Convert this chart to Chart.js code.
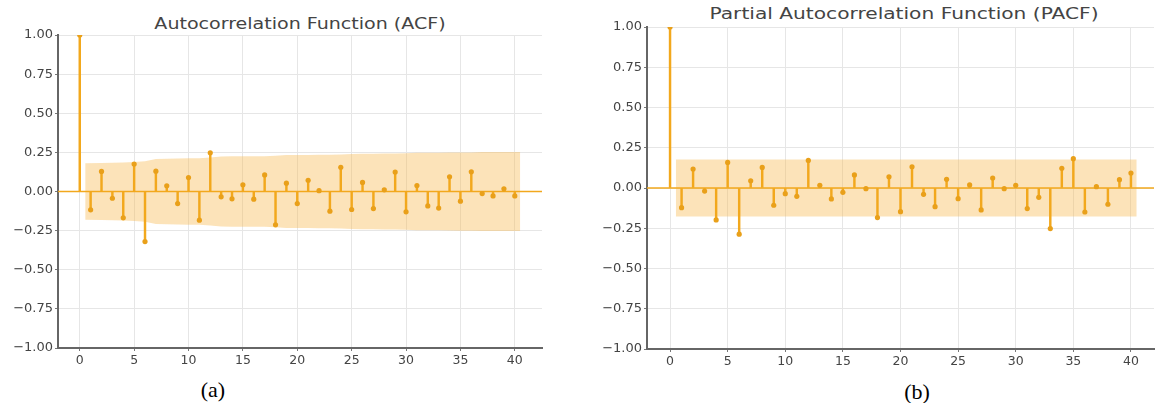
<!DOCTYPE html>
<html>
<head>
<meta charset="utf-8">
<script src="https://cdn.jsdelivr.net/npm/chart.js"></script>
<style>
  body { margin: 0; width: 1158px; height: 403px; background: #fff; position: relative; overflow: hidden; }
  .title { position: absolute; width: 600px; text-align: center; font: 16px "DejaVu Sans"; line-height: 20px; color: #444; white-space: nowrap; }
  .caption { position: absolute; width: 60px; text-align: center; font: 22px "Liberation Serif"; line-height: 24px; color: #000; }
  canvas { position: absolute; top: 0; }
</style>
</head>
<body>
<div class="title" style="left:0px;top:14px;transform:scaleX(1.19)">Autocorrelation Function (ACF)</div>
<div class="title" style="left:604px;top:4px;transform:scaleX(1.26)">Partial Autocorrelation Function (PACF)</div>
<canvas id="acfChart" width="560" height="375" style="left:0px"></canvas>
<canvas id="pacfChart" width="583" height="375" style="left:575px"></canvas>
<div class="caption" style="left:183px;top:378px">(a)</div>
<div class="caption" style="left:887px;top:380px">(b)</div>
<script>
var lags = [0,1,2,3,4,5,6,7,8,9,10,11,12,13,14,15,16,17,18,19,20,21,22,23,24,25,26,27,28,29,30,31,32,33,34,35,36,37,38,39,40];
var xTicks = [0, 5, 10, 15, 20, 25, 30, 35, 40];
var yTicks = [-1, -0.75, -0.5, -0.25, 0, 0.25, 0.5, 0.75, 1];

var acfValues = [1.00, -0.117, 0.128, -0.043, -0.168, 0.175, -0.32, 0.13, 0.036, -0.077, 0.089,
  -0.183, 0.247, -0.034, -0.047, 0.043, -0.049, 0.106, -0.213, 0.053, -0.077,
  0.072, 0.005, -0.126, 0.155, -0.115, 0.058, -0.109, 0.011, 0.124, -0.13,
  0.038, -0.092, -0.106, 0.094, -0.062, 0.126, -0.013, -0.028, 0.017, -0.028];
// confidence band half-width for lags 1..40
var acfBand = [0.180, 0.182, 0.184, 0.185, 0.189, 0.194, 0.208, 0.210, 0.211, 0.212,
  0.213, 0.217, 0.224, 0.225, 0.225, 0.226, 0.226, 0.228, 0.233, 0.234,
  0.234, 0.235, 0.235, 0.237, 0.240, 0.241, 0.242, 0.243, 0.243, 0.245,
  0.247, 0.247, 0.248, 0.249, 0.250, 0.250, 0.252, 0.252, 0.252, 0.252];

var pacfValues = [1.00, -0.122, 0.118, -0.019, -0.198, 0.159, -0.287, 0.045, 0.128, -0.107, -0.035,
  -0.052, 0.171, 0.017, -0.068, -0.027, 0.081, -0.004, -0.184, 0.07, -0.147,
  0.132, -0.039, -0.116, 0.054, -0.066, 0.019, -0.136, 0.062, -0.004, 0.017,
  -0.128, -0.058, -0.252, 0.122, 0.182, -0.149, 0.008, -0.101, 0.052, 0.093];
var pacfBand = [0.177, 0.177, 0.177, 0.177, 0.177, 0.177, 0.177, 0.177, 0.177, 0.177,
  0.177, 0.177, 0.177, 0.177, 0.177, 0.177, 0.177, 0.177, 0.177, 0.177,
  0.177, 0.177, 0.177, 0.177, 0.177, 0.177, 0.177, 0.177, 0.177, 0.177,
  0.177, 0.177, 0.177, 0.177, 0.177, 0.177, 0.177, 0.177, 0.177, 0.177];

var stemColor = '#f2a81d';
var markColor = '#e9a01a';
var bandColor = 'rgba(247,186,80,0.40)';

function bandX(i, n) {
  // band starts half a lag before lag 1 and ends half a lag after the last lag
  var x = lags[i + 1];
  if (i === 0) x -= 0.5;
  if (i === n - 1) x += 0.5;
  return x;
}

function makeChart(id, values, band, xMax, padTop, padRight, yWidth, xHeight) {
  var upper = band.map(function (b, i) { return { x: bandX(i, band.length), y: b }; });
  var lower = band.map(function (b, i) { return { x: bandX(i, band.length), y: -b }; });
  var pts = values.map(function (v, i) { return { x: lags[i], y: v }; });

  new Chart(document.getElementById(id), {
    type: 'bar',
    data: {
      datasets: [
        { type: 'line', data: upper, fill: '+1', backgroundColor: bandColor, borderWidth: 0, pointRadius: 0, order: 10 },
        { type: 'line', data: lower, fill: false, borderWidth: 0, pointRadius: 0, order: 9 },
        { type: 'line', data: [{ x: -2, y: 0 }, { x: xMax, y: 0 }], borderColor: stemColor, borderWidth: 1.6, pointRadius: 0, order: 5 },
        { type: 'bar', data: pts, backgroundColor: stemColor, barThickness: 1.8, order: 2 },
        { type: 'scatter', data: pts, backgroundColor: markColor, borderWidth: 0, pointRadius: 2.6, order: 1 }
      ]
    },
    options: {
      responsive: false,
      animation: false,
      layout: { padding: { top: padTop, right: padRight, left: 0, bottom: 0 } },
      plugins: { legend: { display: false }, tooltip: { enabled: false } },
      scales: {
        x: {
          type: 'linear', min: -2, max: xMax, offset: false,
          grid: { color: '#e6e6e6', lineWidth: 1, tickLength: 3, tickColor: '#777', offset: false },
          border: { display: true, color: '#666', width: 2 },
          ticks: { font: { family: 'DejaVu Sans', size: 12.5 }, color: '#444', padding: 2, maxRotation: 0 },
          afterBuildTicks: function (s) { s.ticks = xTicks.map(function (v) { return { value: v }; }); },
          afterFit: function (s) { s.height = xHeight; }
        },
        y: {
          min: -1, max: 1,
          grid: { color: '#e6e6e6', lineWidth: 1, tickLength: 3, tickColor: '#777' },
          border: { display: true, color: '#666', width: 2 },
          ticks: {
            font: { family: 'DejaVu Sans', size: 13 }, color: '#444', padding: 2,
            callback: function (v) { return (v < 0 ? '\u2212' : '') + Math.abs(v).toFixed(2); }
          },
          afterBuildTicks: function (s) { s.ticks = yTicks.map(function (v) { return { value: v }; }); },
          afterFit: function (s) { s.width = yWidth; }
        }
      }
    }
  });
}

makeChart('acfChart', acfValues, acfBand, 42.5, 35, 18, 58, 27);
makeChart('pacfChart', pacfValues, pacfBand, 42, 27, 0, 72, 26);
</script>
</body>
</html>
